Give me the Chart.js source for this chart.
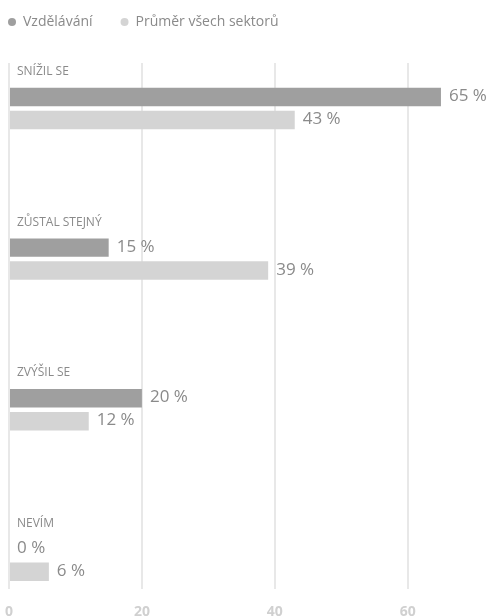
<!DOCTYPE html>
<html>
<head>
<meta charset="utf-8">
<script src="https://cdn.jsdelivr.net/npm/chart.js@4/dist/chart.umd.min.js"></script>
<style>
    html, body { margin: 0; padding: 0; background: #fff; overflow: hidden; }
    #wrap { width: 489px; height: 616px; position: relative; }
</style>
</head>
<body>
<div id="wrap"><canvas id="bar-chart"></canvas></div>
<script>
// data
const categories = ['SNÍŽIL SE', 'ZŮSTAL STEJNÝ', 'ZVÝŠIL SE', 'NEVÍM'];
const seriesNames = ['Vzdělávání', 'Průměr všech sektorů'];
const educationValues = [65, 15, 20, 0];
const allSectorsValues = [43, 39, 12, 6];
const xTickValues = [0, 20, 40, 60];

const COLORS = ['#9f9f9f', '#d4d4d4'];
const TEXT_COLOR = '#8a8a8a';
const FONT = '"Open Sans", "Noto Sans", sans-serif';

const toPoints = (vals) => vals.map((v, i) => ({ x: v, y: i }));

// category titles above each group + value labels at bar ends
const labelsPlugin = {
    id: 'barLabels',
    afterDatasetsDraw(chart) {
        const { ctx, scales } = chart;
        const x0 = scales.x.getPixelForValue(0);
        ctx.save();
        ctx.fillStyle = TEXT_COLOR;
        ctx.textAlign = 'left';
        ctx.textBaseline = 'alphabetic';

        ctx.font = '12px ' + FONT;
        categories.forEach((c, i) => {
            ctx.fillText(c, x0 + 8, scales.y.getPixelForValue(i) - 33.5);
        });

        ctx.font = '17px ' + FONT;
        chart.data.datasets.forEach((ds, di) => {
            const meta = chart.getDatasetMeta(di);
            meta.data.forEach((el, i) => {
                ctx.fillText(ds.data[i].x + ' %', el.x + 8, el.y + 4);
            });
        });
        ctx.restore();
    },
};

// legend: extra room below it, and nudge it left so the first dot sits near the edge
const legendTweak = {
    id: 'legendTweak',
    beforeInit(chart) {
        const fit = chart.legend.fit;
        chart.legend.fit = function () {
            fit.bind(chart.legend)();
            this.height += 24;
        };
    },
    afterLayout(chart) {
        chart.legend.left -= 29;
    },
};

new Chart(document.getElementById('bar-chart'), {
    type: 'bar',
    data: {
        datasets: [
            {
                label: seriesNames[0],
                data: toPoints(educationValues),
                backgroundColor: COLORS[0],
                borderWidth: 0,
            },
            {
                label: seriesNames[1],
                data: toPoints(allSectorsValues),
                backgroundColor: COLORS[1],
                borderWidth: 0,
            },
        ],
    },
    options: {
        indexAxis: 'y',
        responsive: true,
        maintainAspectRatio: false,
        animation: false,
        categoryPercentage: 0.305,
        barPercentage: 0.804,
        layout: { padding: { left: 9, top: -13, right: 0, bottom: -19.6 } },
        plugins: {
            legend: {
                position: 'top',
                align: 'start',
                labels: {
                    color: TEXT_COLOR,
                    font: { family: FONT, size: 14 },
                    usePointStyle: true,
                    pointStyle: 'circle',
                    boxWidth: 8,
                    boxHeight: 5.66,
                    padding: 28,
                },
            },
            tooltip: { enabled: false },
        },
        scales: {
            x: {
                type: 'linear',
                min: 0,
                max: 72.23,
                afterBuildTicks: (scale) => {
                    scale.ticks = xTickValues.map(v => ({ value: v }));
                },
                afterFit: (scale) => {
                    scale.paddingLeft = 0;
                    scale.paddingRight = 0;
                },
                grid: { color: '#e8e8e8', lineWidth: 2, drawTicks: false },
                border: { display: false },
                ticks: {
                    color: '#d0d0d0',
                    font: { family: FONT, size: 14, weight: 'bold' },
                    padding: 15,
                },
            },
            y: {
                type: 'linear',
                reverse: true,
                display: false,
                offset: false,
                min: -0.302,
                max: 3.189,
                afterBuildTicks: (scale) => {
                    scale.ticks = categories.map((c, i) => ({ value: i }));
                },
            },
        },
    },
    plugins: [labelsPlugin, legendTweak],
});
</script>
</body>
</html>
